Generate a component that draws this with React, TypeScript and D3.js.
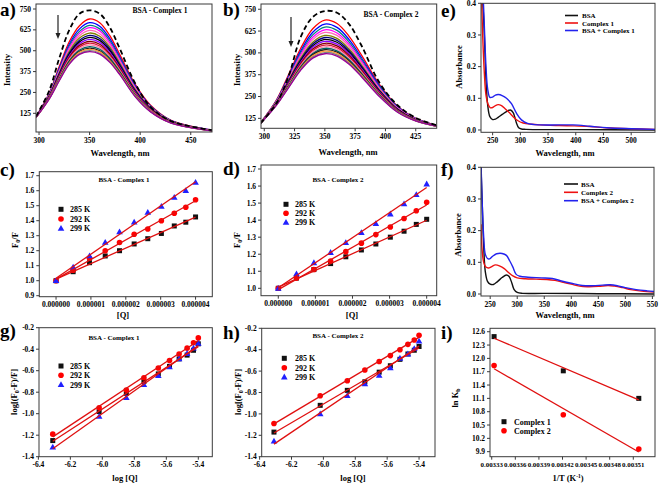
import React from 'react';
import * as d3 from 'd3';

const FF = '"Liberation Serif", "Times New Roman", serif';

// ---------- a) emission spectra, BSA - Complex 1 ----------
const wlA = [297, 310, 320, 330, 340, 350, 360, 370, 380, 395, 410, 430, 471];
const spectraA = [
  [105, 245, 405, 555, 650, 690, 668, 590, 475, 300, 175, 85, 24],
  [104, 241, 395, 540, 631, 668, 647, 572, 461, 292, 170, 83, 24],
  [104, 238, 388, 529, 616, 652, 631, 559, 452, 285, 167, 82, 23],
  [104, 236, 382, 519, 604, 638, 618, 547, 443, 280, 164, 80, 23],
  [103, 233, 375, 508, 590, 622, 602, 534, 433, 274, 161, 79, 23],
  [103, 230, 368, 497, 576, 606, 587, 521, 423, 268, 158, 78, 22],
  [102, 227, 362, 487, 563, 592, 573, 510, 415, 262, 155, 76, 22],
  [102, 225, 357, 479, 553, 580, 562, 500, 407, 258, 152, 75, 22],
  [102, 223, 352, 470, 542, 568, 550, 490, 400, 253, 150, 74, 21],
  [102, 221, 347, 462, 532, 556, 539, 480, 393, 248, 148, 73, 21],
  [101, 219, 342, 455, 522, 545, 528, 471, 386, 244, 145, 72, 21],
  [101, 217, 337, 448, 513, 535, 519, 463, 380, 240, 143, 71, 21],
  [101, 215, 333, 441, 504, 525, 509, 455, 373, 237, 141, 71, 21],
  [101, 214, 329, 435, 497, 516, 500, 447, 368, 233, 139, 70, 20],
  [100, 212, 326, 429, 490, 508, 493, 441, 363, 230, 138, 69, 20],
  [100, 211, 322, 424, 482, 500, 485, 434, 358, 227, 136, 68, 20],
  [100, 210, 320, 420, 478, 495, 480, 430, 355, 225, 135, 68, 20],
];
const dashA = [106, 260, 455, 625, 722, 742, 722, 640, 510, 305, 165, 80, 24];

// ---------- b) emission spectra, BSA - Complex 2 ----------
const wlB = [297, 310, 320, 330, 340, 350, 360, 370, 380, 395, 410, 425, 442];
const spectraB = [
  [100, 230, 375, 525, 638, 688, 668, 595, 490, 320, 195, 125, 85],
  [100, 226, 366, 510, 618, 665, 646, 576, 475, 312, 191, 123, 84],
  [99, 224, 359, 499, 603, 648, 629, 562, 464, 306, 188, 122, 84],
  [99, 221, 353, 489, 589, 632, 614, 549, 454, 300, 185, 121, 84],
  [99, 219, 347, 479, 576, 617, 600, 536, 444, 294, 182, 119, 83],
  [99, 216, 341, 468, 561, 600, 583, 522, 433, 288, 179, 118, 83],
  [98, 214, 336, 460, 551, 588, 572, 512, 425, 284, 177, 117, 82],
  [98, 213, 332, 453, 541, 577, 561, 503, 418, 280, 175, 116, 82],
  [98, 211, 328, 446, 532, 566, 550, 494, 411, 276, 173, 116, 82],
  [98, 209, 323, 439, 522, 555, 540, 485, 404, 272, 171, 115, 82],
  [98, 208, 319, 432, 514, 545, 530, 476, 397, 268, 169, 114, 81],
  [98, 206, 316, 426, 505, 535, 521, 468, 391, 264, 167, 113, 81],
  [97, 205, 312, 420, 497, 526, 512, 461, 385, 261, 166, 112, 81],
  [97, 204, 309, 415, 490, 518, 504, 454, 380, 258, 164, 112, 81],
  [97, 202, 306, 410, 483, 510, 497, 447, 375, 255, 163, 111, 80],
  [97, 201, 303, 405, 476, 502, 489, 441, 370, 253, 161, 111, 80],
  [97, 200, 300, 400, 470, 495, 482, 435, 365, 250, 160, 110, 80],
];
const dashB = [98, 210, 365, 590, 705, 740, 730, 665, 545, 330, 200, 128, 86];

const spectraColors = [
  '#ff0000', '#0000ff', '#008080', '#ff00ff', '#ff69b4', '#808000', '#000080', '#000000', '#8b00ff',
  '#800000', '#dc143c', '#ff88aa', '#006666', '#202020', '#ff9933', '#7f7f7f', '#990099',
];

// ---------- e) absorption, complex 1 ----------
const eBSA: [number, number][] = [[230, 0.45], [233, 0.38], [235, 0.3], [238, 0.16], [241, 0.08], [245, 0.042], [250, 0.033], [255, 0.034], [260, 0.04], [268, 0.05], [275, 0.058], [282, 0.063], [287, 0.055], [290, 0.04], [293, 0.022], [297, 0.007], [302, 0.003], [310, 0.002], [400, 0.001], [543, 0.0]];
const eCx1: [number, number][] = [[230, 0.42], [232, 0.3], [235, 0.18], [238, 0.11], [242, 0.08], [246, 0.07], [250, 0.071], [255, 0.077], [260, 0.08], [266, 0.077], [272, 0.068], [280, 0.055], [287, 0.042], [295, 0.03], [305, 0.022], [320, 0.018], [335, 0.016], [370, 0.014], [395, 0.013], [425, 0.011], [456, 0.007], [500, 0.004], [543, 0.002]];
const eMix1: [number, number][] = [[233, 0.42], [235, 0.33], [238, 0.2], [241, 0.13], [245, 0.103], [250, 0.104], [255, 0.11], [260, 0.112], [268, 0.108], [275, 0.1], [284, 0.083], [293, 0.053], [302, 0.032], [313, 0.021], [335, 0.016], [370, 0.016], [395, 0.016], [425, 0.012], [456, 0.007], [500, 0.004], [543, 0.002]];

// ---------- f) absorption, complex 2 ----------
const fBSA: [number, number][] = [[232, 0.45], [235, 0.3], [238, 0.15], [241, 0.07], [245, 0.04], [250, 0.031], [256, 0.03], [264, 0.04], [272, 0.052], [280, 0.06], [285, 0.055], [290, 0.035], [294, 0.015], [300, 0.005], [310, 0.002], [350, 0.002], [450, 0.001], [553, 0.0]];
const fCx2: [number, number][] = [[233, 0.22], [235, 0.14], [238, 0.1], [242, 0.085], [247, 0.082], [252, 0.086], [260, 0.092], [268, 0.088], [276, 0.08], [284, 0.068], [292, 0.057], [300, 0.051], [315, 0.048], [335, 0.047], [355, 0.046], [370, 0.043], [385, 0.037], [400, 0.031], [415, 0.025], [430, 0.023], [450, 0.024], [468, 0.027], [480, 0.025], [495, 0.02], [510, 0.014], [530, 0.009], [553, 0.006]];
const fMix2: [number, number][] = [[233, 0.42], [235, 0.3], [238, 0.18], [241, 0.125], [245, 0.112], [249, 0.111], [255, 0.12], [262, 0.127], [272, 0.128], [280, 0.122], [286, 0.105], [292, 0.085], [298, 0.062], [305, 0.056], [320, 0.053], [345, 0.051], [365, 0.049], [380, 0.042], [400, 0.034], [420, 0.027], [440, 0.026], [458, 0.028], [472, 0.029], [485, 0.026], [500, 0.02], [520, 0.014], [540, 0.01], [553, 0.008]];

// ---------- c), d) Stern-Volmer ----------
const concQ = [0, 0.49e-6, 0.96e-6, 1.41e-6, 1.82e-6, 2.24e-6, 2.63e-6, 3.02e-6, 3.39e-6, 3.72e-6, 4.0e-6];
const c285 = [1.0, 1.06, 1.12, 1.165, 1.2, 1.245, 1.28, 1.315, 1.365, 1.39, 1.425];
const c292 = [1.0, 1.07, 1.15, 1.2, 1.255, 1.31, 1.345, 1.4, 1.45, 1.49, 1.54];
const c299 = [1.0, 1.09, 1.165, 1.255, 1.325, 1.39, 1.455, 1.495, 1.555, 1.6, 1.655];
const d285 = [1.0, 1.06, 1.11, 1.145, 1.185, 1.225, 1.26, 1.3, 1.335, 1.375, 1.405];
const d292 = [1.0, 1.06, 1.11, 1.16, 1.215, 1.265, 1.315, 1.36, 1.41, 1.455, 1.505];
const d299 = [1.0, 1.085, 1.15, 1.21, 1.268, 1.327, 1.38, 1.436, 1.495, 1.55, 1.612];

// ---------- g), h) double log ----------
const logQ = [-6.31, -6.02, -5.85, -5.74, -5.65, -5.58, -5.52, -5.47, -5.43, -5.4];
const g285 = [-1.25, -0.98, -0.81, -0.7, -0.63, -0.56, -0.49, -0.455, -0.41, -0.35];
const g292 = [-1.19, -0.945, -0.78, -0.665, -0.575, -0.505, -0.445, -0.39, -0.34, -0.295];
const g299 = [-1.31, -1.025, -0.85, -0.73, -0.645, -0.565, -0.49, -0.44, -0.39, -0.345];
const h285 = [-1.17, -0.92, -0.78, -0.7, -0.61, -0.55, -0.49, -0.44, -0.405, -0.37];
const h292 = [-1.09, -0.83, -0.69, -0.59, -0.51, -0.455, -0.4, -0.35, -0.31, -0.265];
const h299 = [-1.255, -1.0, -0.83, -0.72, -0.64, -0.57, -0.48, -0.44, -0.39, -0.32];

// ---------- i) van't Hoff ----------
const invT = [0.003333, 0.003421, 0.003517];
const lnKb1 = [12.49, 11.72, 11.1];
const lnKb2 = [11.84, 10.73, 9.96];

// ---------- ticks ----------
const ticksEmA = [300, 350, 400, 450];
const ticksEmB = [300, 325, 350, 375, 400, 425];
const ticksInt = [125, 250, 375, 500, 625, 750];
const ticksAbsE = [250, 300, 350, 400, 450, 500];
const ticksAbsF = [250, 300, 350, 400, 450, 500, 550];
const ticksAbsY = [0, 0.1, 0.2, 0.3, 0.4];
const ticksQ = [0, 1e-6, 2e-6, 3e-6, 4e-6];
const ticksFc = [0.9, 1.0, 1.1, 1.2, 1.3, 1.4, 1.5, 1.6, 1.7];
const ticksFd = [1.0, 1.1, 1.2, 1.3, 1.4, 1.5, 1.6, 1.7];
const ticksLogQ = [-6.4, -6.2, -6.0, -5.8, -5.6, -5.4];
const ticksLogY = [-1.4, -1.2, -1.0, -0.8, -0.6, -0.4, -0.2];
const ticksInvT = [0.00333, 0.00336, 0.00339, 0.00342, 0.00345, 0.00348, 0.00351];
const ticksLnK = [9.9, 10.2, 10.5, 10.8, 11.1, 11.4, 11.7, 12.0, 12.3, 12.6];

type Sc = d3.ScaleLinear<number, number>;

function linfit(xs: number[], ys: number[]) {
  const mx = d3.mean(xs) as number;
  const my = d3.mean(ys) as number;
  let sxy = 0, sxx = 0;
  xs.forEach((v, i) => { sxy += (v - mx) * (ys[i] - my); sxx += (v - mx) * (v - mx); });
  const b = sxy / sxx;
  return (v: number) => my + b * (v - mx);
}

const Sq = ({ cx, cy }: { cx: number; cy: number }) => <rect x={cx - 2.5} y={cy - 2.5} width={5} height={5} fill="#111" />;
const Ci = ({ cx, cy }: { cx: number; cy: number }) => <circle cx={cx} cy={cy} r={2.8} fill="#ff0000" />;
const Tri = ({ cx, cy }: { cx: number; cy: number }) => (
  <path d={`M${cx},${cy - 3.4}L${cx + 3.3},${cy + 2.4}L${cx - 3.3},${cy + 2.4}Z`} fill="#2020ff" />
);

interface PP {
  id: string;
  box: [number, number, number, number];
  xd: [number, number];
  yd: [number, number];
  xt: number[];
  yt: number[];
  xf: (v: number) => string;
  yf: (v: number) => string;
  xfs?: number;
  clip?: (x: Sc, y: Sc) => React.ReactNode;
  over?: (x: Sc, y: Sc) => React.ReactNode;
}

function Panel(p: PP) {
  const [l, r, t, b] = p.box;
  const x = d3.scaleLinear().domain(p.xd).range([l, r]);
  const y = d3.scaleLinear().domain(p.yd).range([b, t]);
  return (
    <g>
      <clipPath id={p.id}>
        <rect x={l} y={t} width={r - l} height={b - t} />
      </clipPath>
      <g clipPath={`url(#${p.id})`}>{p.clip && p.clip(x, y)}</g>
      {p.over && p.over(x, y)}
      <rect x={l} y={t} width={r - l} height={b - t} fill="none" stroke="#3a3a3a" strokeWidth={1} />
      {p.xt.map((v, i) => (
        <g key={'x' + i}>
          <line x1={x(v)} x2={x(v)} y1={b} y2={b + 3} stroke="#3a3a3a" />
          <text x={x(v)} y={b + 10.5} textAnchor="middle" fontSize={p.xfs ?? 7.5} fontWeight="bold">{p.xf(v)}</text>
        </g>
      ))}
      {p.yt.map((v, i) => (
        <g key={'y' + i}>
          <line x1={l - 3} x2={l} y1={y(v)} y2={y(v)} stroke="#3a3a3a" />
          <text x={l - 5} y={y(v) + 2.6} textAnchor="end" fontSize={7.5} fontWeight="bold">{p.yf(v)}</text>
        </g>
      ))}
    </g>
  );
}

function smooth(x: Sc, y: Sc, pts: [number, number][]) {
  return d3.line<[number, number]>().x((d) => x(d[0])).y((d) => y(d[1])).curve(d3.curveCatmullRom.alpha(0.5))(pts) || '';
}

function spectra(x: Sc, y: Sc, wl: number[], rows: number[][], dash: number[]) {
  return (
    <g>
      {rows.map((row, k) => (
        <path key={k} d={smooth(x, y, wl.map((w, i) => [w, row[i]] as [number, number]))} fill="none" stroke={spectraColors[k]} strokeWidth={1.3} />
      ))}
      <path d={smooth(x, y, wl.map((w, i) => [w, dash[i]] as [number, number]))} fill="none" stroke="#000" strokeWidth={1.8} strokeDasharray="5,3" />
    </g>
  );
}

function fitLine(x: Sc, y: Sc, xs: number[], ys: number[], key: string) {
  const f = linfit(xs, ys);
  const a = xs[0], b = xs[xs.length - 1];
  return <line key={key} x1={x(a)} y1={y(f(a))} x2={x(b)} y2={y(f(b))} stroke="#e01010" strokeWidth={1.3} />;
}

function scatter3(x: Sc, y: Sc, xs: number[], s1: number[], s2: number[], s3: number[]) {
  return (
    <g>
      {xs.map((v, i) => <Sq key={'s' + i} cx={x(v)} cy={y(s1[i])} />)}
      {xs.map((v, i) => <Ci key={'c' + i} cx={x(v)} cy={y(s2[i])} />)}
      {xs.map((v, i) => <Tri key={'t' + i} cx={x(v)} cy={y(s3[i])} />)}
      {fitLine(x, y, xs, s1, 'l1')}
      {fitLine(x, y, xs, s2, 'l2')}
      {fitLine(x, y, xs, s3, 'l3')}
    </g>
  );
}

function tempLegend(mx: number, tx: number, ys: number[]) {
  const labels = ['285 K', '292 K', '299 K'];
  return (
    <g>
      <Sq cx={mx} cy={ys[0]} />
      <Ci cx={mx} cy={ys[1]} />
      <Tri cx={mx} cy={ys[2]} />
      {labels.map((t, i) => (
        <text key={t} x={tx} y={ys[i] + 3} fontSize={8} fontWeight="bold">{t}</text>
      ))}
    </g>
  );
}

function absLegend(x0: number, x1: number, tx: number, ys: number[], labels: string[]) {
  const cols = ['#111', '#ee1111', '#2222ee'];
  return (
    <g>
      {labels.map((t, i) => (
        <g key={t}>
          <line x1={x0} x2={x1} y1={ys[i]} y2={ys[i]} stroke={cols[i]} strokeWidth={1.6} />
          <text x={tx} y={ys[i] + 2.5} fontSize={7} fontWeight="bold">{t}</text>
        </g>
      ))}
    </g>
  );
}

function absCurves(x: Sc, y: Sc, s: [number, number][][]) {
  const cols = ['#111', '#ee1111', '#2222ee'];
  return (
    <g>
      {s.map((pts, i) => (
        <path key={i} d={smooth(x, y, pts)} fill="none" stroke={cols[i]} strokeWidth={1.4} />
      ))}
    </g>
  );
}

const Arrow = ({ x, y0, y1 }: { x: number; y0: number; y1: number }) => (
  <g>
    <line x1={x} x2={x} y1={y0} y2={y1 - 5} stroke="#222" strokeWidth={1.2} />
    <path d={`M${x - 2.5},${y1 - 6}L${x + 2.5},${y1 - 6}L${x},${y1}Z`} fill="#222" />
  </g>
);

const RotTitle = ({ x, y, children }: { x: number; y: number; children: React.ReactNode }) => (
  <text transform={`translate(${x},${y}) rotate(-90)`} textAnchor="middle" fontSize={8.5} fontWeight="bold">{children}</text>
);
const XTitle = ({ x, y, children }: { x: number; y: number; children: React.ReactNode }) => (
  <text x={x} y={y} textAnchor="middle" fontSize={8.5} fontWeight="bold">{children}</text>
);

const letters = [
  { t: 'a)', x: 0, y: 16 }, { t: 'b)', x: 223, y: 16 }, { t: 'e)', x: 441, y: 17 },
  { t: 'c)', x: 0, y: 176 }, { t: 'd)', x: 223, y: 175 }, { t: 'f)', x: 441, y: 176 },
  { t: 'g)', x: 0, y: 337 }, { t: 'h)', x: 223, y: 339 }, { t: 'i)', x: 441, y: 339 },
];

const f0 = (v: number) => v.toFixed(0);
const f1 = (v: number) => v.toFixed(1);

export default function App() {
  return (
    <svg width={660} height={484} style={{ position: 'absolute', left: 0, top: 0, background: '#fff' }} fontFamily={FF}>
      <rect x={0} y={0} width={660} height={484} fill="#fff" />

      {/* a */}
      <Panel id="pa" box={[36, 212, 4, 132]} xd={[297, 471]} yd={[13, 780]} xt={ticksEmA} yt={ticksInt} xf={f0} yf={f0}
        clip={(x, y) => spectra(x, y, wlA, spectraA, dashA)} />
      <text x={160} y={13} textAnchor="middle" fontSize={7.5} fontWeight="bold">BSA - Complex 1</text>
      <Arrow x={58} y0={15} y1={39} />
      <XTitle x={120} y={156}>Wavelength, nm</XTitle>
      <RotTitle x={10} y={70}>Intensity</RotTitle>

      {/* b */}
      <Panel id="pb" box={[261, 436.7, 4, 128.3]} xd={[297.3, 442.3]} yd={[68, 780]} xt={ticksEmB} yt={ticksInt} xf={f0} yf={f0}
        clip={(x, y) => spectra(x, y, wlB, spectraB, dashB)} />
      <text x={391} y={17} textAnchor="middle" fontSize={7.5} fontWeight="bold">BSA - Complex 2</text>
      <Arrow x={291} y0={17} y1={47} />
      <XTitle x={348} y={155}>Wavelength, nm</XTitle>
      <RotTitle x={240} y={70}>Intensity</RotTitle>

      {/* e */}
      <Panel id="pe" box={[481, 655, 3.3, 132.3]} xd={[229, 543]} yd={[-0.0073, 0.4]} xt={ticksAbsE} yt={ticksAbsY} xf={f0} yf={f1}
        clip={(x, y) => absCurves(x, y, [eBSA, eCx1, eMix1])} />
      {absLegend(565, 578, 582, [15.5, 23, 30.5], ['BSA', 'Complex 1', 'BSA + Complex 1'])}
      <XTitle x={565} y={156}>Wavelength, nm</XTitle>
      <RotTitle x={462} y={67}>Absorbance</RotTitle>

      {/* c */}
      <Panel id="pc" box={[39.3, 212.3, 171.7, 296.7]} xd={[-0.48e-6, 4.48e-6]} yd={[0.8933, 1.7267]} xt={ticksQ} yt={ticksFc}
        xf={(v) => v.toFixed(6)} yf={f1}
        over={(x, y) => scatter3(x, y, concQ, c285, c292, c299)} />
      <text x={124} y={182} textAnchor="middle" fontSize={7} fontWeight="bold">BSA - Complex 1</text>
      {tempLegend(61, 70, [209.3, 219, 228.3])}
      <XTitle x={123} y={318}>[Q]</XTitle>
      <RotTitle x={18} y={240}>
        <tspan>F</tspan><tspan dy={2} fontSize={6}>0</tspan><tspan dy={-2}>/F</tspan>
      </RotTitle>

      {/* d */}
      <Panel id="pd" box={[261, 436.7, 165, 295.7]} xd={[-0.466e-6, 4.27e-6]} yd={[0.9566, 1.7235]} xt={ticksQ} yt={ticksFd}
        xf={(v) => v.toFixed(6)} yf={f1}
        over={(x, y) => scatter3(x, y, concQ, d285, d292, d299)} />
      <text x={338} y={182} textAnchor="middle" fontSize={7} fontWeight="bold">BSA - Complex 2</text>
      {tempLegend(286, 295, [204.3, 213.3, 222.3])}
      <XTitle x={352} y={318}>[Q]</XTitle>
      <RotTitle x={240} y={240}>
        <tspan>F</tspan><tspan dy={2} fontSize={6}>0</tspan><tspan dy={-2}>/F</tspan>
      </RotTitle>

      {/* f */}
      <Panel id="pf" box={[481, 654, 167.3, 296]} xd={[233, 553]} yd={[-0.0063, 0.4]} xt={ticksAbsF} yt={ticksAbsY} xf={f0} yf={f1}
        clip={(x, y) => absCurves(x, y, [fBSA, fCx2, fMix2])} />
      {absLegend(564, 578, 581, [184, 192.3, 200.7], ['BSA', 'Complex 2', 'BSA + Complex 2'])}
      <XTitle x={565} y={318}>Wavelength, nm</XTitle>
      <RotTitle x={461} y={235}>Absorbance</RotTitle>

      {/* g */}
      <Panel id="pg" box={[39, 212.3, 327.7, 456.7]} xd={[-6.396, -5.3125]} yd={[-1.4, -0.2]} xt={ticksLogQ} yt={ticksLogY} xf={f1} yf={f1}
        over={(x, y) => scatter3(x, y, logQ, g285, g292, g299)} />
      <text x={114} y={340} textAnchor="middle" fontSize={7} fontWeight="bold">BSA - Complex 1</text>
      {tempLegend(61, 70, [366, 375.3, 384.7])}
      <XTitle x={125} y={481}>log [Q]</XTitle>
      <RotTitle x={17} y={392}>
        <tspan>log[(F</tspan><tspan dy={2} fontSize={6}>0</tspan><tspan dy={-2}>-F)/F]</tspan>
      </RotTitle>

      {/* h */}
      <Panel id="ph" box={[261.7, 435, 328.3, 456.7]} xd={[-6.387, -5.3]} yd={[-1.4, -0.2]} xt={ticksLogQ} yt={ticksLogY} xf={f1} yf={f1}
        over={(x, y) => scatter3(x, y, logQ, h285, h292, h299)} />
      <text x={338} y={338} textAnchor="middle" fontSize={7} fontWeight="bold">BSA - Complex 2</text>
      {tempLegend(284.3, 295, [358.3, 367.7, 377])}
      <XTitle x={353} y={481}>log [Q]</XTitle>
      <RotTitle x={241} y={392}>
        <tspan>log[(F</tspan><tspan dy={2} fontSize={6}>0</tspan><tspan dy={-2}>-F)/F]</tspan>
      </RotTitle>

      {/* i */}
      <Panel id="pi" box={[490, 655, 328.3, 456.7]} xd={[0.0033278, 0.0035376]} yd={[9.787, 12.677]} xt={ticksInvT} yt={ticksLnK}
        xf={(v) => v.toFixed(5)} yf={f1} xfs={6.9}
        over={(x, y) => (
          <g>
            {invT.map((v, i) => <Sq key={'a' + i} cx={x(v)} cy={y(lnKb1[i])} />)}
            {invT.map((v, i) => <Ci key={'b' + i} cx={x(v)} cy={y(lnKb2[i])} />)}
            {fitLine(x, y, invT, lnKb1, 'k1')}
            {fitLine(x, y, invT, lnKb2, 'k2')}
          </g>
        )} />
      <Sq cx={504} cy={421.7} />
      <Ci cx={504} cy={430.7} />
      <text x={514} y={424.5} fontSize={8} fontWeight="bold">Complex 1</text>
      <text x={514} y={433.5} fontSize={8} fontWeight="bold">Complex 2</text>
      <XTitle x={568} y={481}>
        <tspan>1/T (K</tspan><tspan dy={-3} fontSize={5.5}>-1</tspan><tspan dy={3}>)</tspan>
      </XTitle>
      <RotTitle x={458} y={398}>
        <tspan>ln K</tspan><tspan dy={2} fontSize={6}>b</tspan>
      </RotTitle>

      {letters.map((l) => (
        <text key={l.t} x={l.x} y={l.y} fontSize={19} fontWeight="bold">{l.t}</text>
      ))}
    </svg>
  );
}
